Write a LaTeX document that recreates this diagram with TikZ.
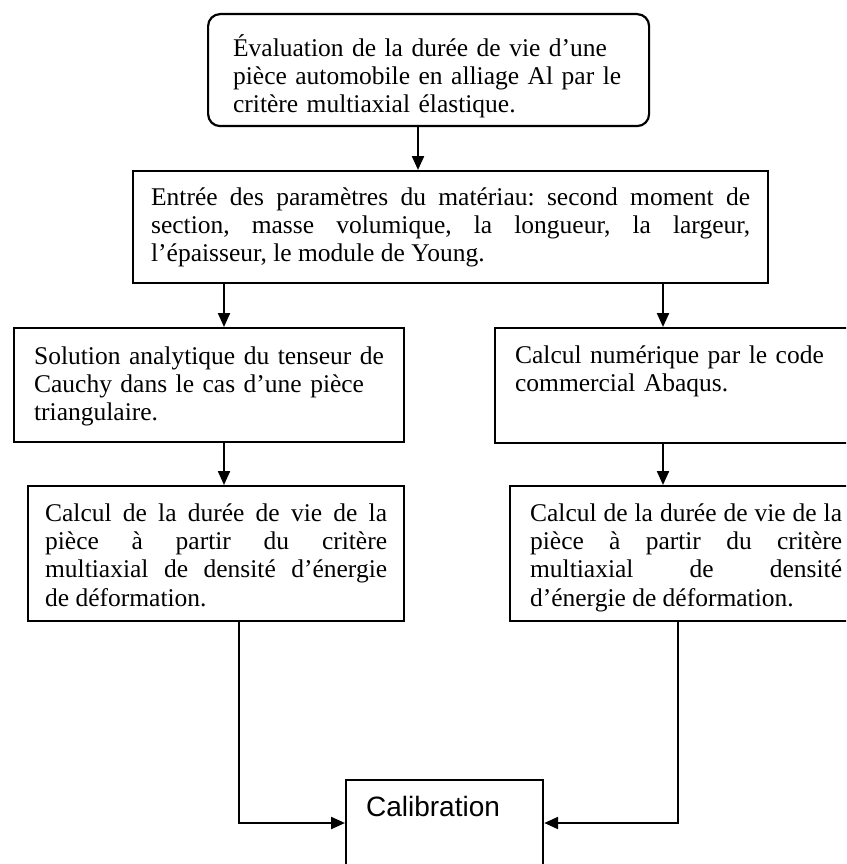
\documentclass[tikz,border=0pt]{standalone}
\usepackage{fontspec}
\setmainfont{Liberation Serif}
\newfontfamily\calibfont{Liberation Sans}
\usetikzlibrary{arrows.meta}
\frenchspacing
\begin{document}
\begin{tikzpicture}[x=1pt,y=-1pt]
		\tikzstyle{every node}+=[inner ysep=0pt, anchor=north west, font=\fontsize{25.5}{28.3}\selectfont]
		\tikzstyle{boite}=[draw, line width=2.2pt]
		\tikzstyle{fleche}=[line width=2.2pt, -{Triangle[length=14pt,width=12pt]}]
		\clip (0,0) rectangle (846,864);
		\coordinate (c0) at (418,0);
		\coordinate (cG) at (224,0);
		\coordinate (cD) at (663,0);
		\coordinate (sG) at (239,0);
		\coordinate (sD) at (678,0);
		\coordinate (niv) at (0,823);
		\node [boite, rounded corners=12pt, inner xsep=25pt, text width=391pt, align=left, text height=42pt, text depth=70pt] (eval) at (207,13) {Évaluation de la durée de vie d’une\\pièce automobile en alliage Al par le\\critère multiaxial élastique.};
		\node [boite, inner xsep=18pt, text width=599pt, align=justify, text height=34pt, text depth=78pt] (entree) at (132,170) {Entrée des paramètres du matériau: second moment de\linebreak section, masse volumique, la longueur, la largeur,\linebreak l’épaisseur, le module de Young.};
		\node [boite, inner xsep=20pt, text width=350pt, align=left, text height=36pt, text depth=78pt] (sol) at (13,327) {Solution analytique du tenseur de\\Cauchy dans le cas d’une pièce\\triangulaire.};
		\node [boite, inner xsep=20pt, text width=340pt, align=left, text height=35pt, text depth=80pt] (num) at (494,327) {Calcul numérique par le code\\commercial Abaqus.};
		\node [boite, inner xsep=17pt, text width=342pt, align=justify, text height=35pt, text depth=100pt] (calG) at (27,485) {Calcul de la durée de vie de la\linebreak pièce à partir du critère\linebreak multiaxial de densité d’énergie\linebreak de déformation.};
		\node [boite, inner xsep=20pt, text width=312pt, align=justify, text height=35pt, text depth=100pt] (calD) at (509,485) {Calcul de la durée de vie de la\linebreak pièce à partir du critère\linebreak multiaxial de densité\linebreak d’énergie de déformation.};
		\node [boite, inner xsep=20pt, text width=157pt, align=left, text height=36pt, text depth=100pt, font=\calibfont\fontsize{28}{33}\selectfont] (calib) at (345,779) {Calibration};
		\draw [fleche] (eval.south -| c0) -- (entree.north -| c0);
		\draw [fleche] (entree.south -| cG) -- (sol.north -| cG);
		\draw [fleche] (entree.south -| cD) -- (num.north -| cD);
		\draw [fleche] (sol.south -| cG) -- (calG.north -| cG);
		\draw [fleche] (num.south -| cD) -- (calD.north -| cD);
		\draw [fleche] (calG.south -| sG) |- (calib.west |- niv);
		\draw [fleche] (calD.south -| sD) |- (calib.east |- niv);
\end{tikzpicture}
\end{document}
